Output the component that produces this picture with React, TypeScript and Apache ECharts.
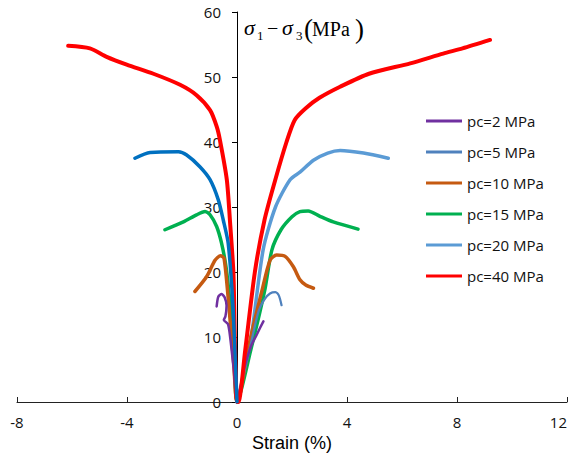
import React, { useEffect, useRef } from "react";
import * as echarts from "echarts";

// Strain (%) vs deviatoric stress (MPa); negative strain = lateral, positive = axial
const pc2 = [
  [-0.74, 14.7], [-0.68, 16.2], [-0.56, 16.6], [-0.45, 16.1], [-0.38, 14.8], [-0.42, 13.2],
  [-0.48, 12.6], [-0.33, 12.0], [-0.25, 10.0], [-0.12, 5.0], [0, 0],
  [0.25, 5.0], [0.5, 8.5], [0.7, 10.2], [0.85, 11.5], [0.96, 12.4],
];
const pc5 = [
  [0, 0], [0.4, 7.0], [0.78, 13.9], [1.0, 15.8], [1.2, 16.7], [1.4, 16.9], [1.52, 16.4], [1.62, 14.9],
];
const pc10 = [
  [-1.53, 17.0], [-1.1, 19.3], [-0.8, 21.8], [-0.6, 22.5], [-0.47, 22.1], [-0.3, 15.0], [-0.12, 6.0], [0, 0],
  [0.5, 10.0], [0.9, 17.0], [1.2, 21.8], [1.44, 22.6], [1.75, 22.4], [2.05, 20.8], [2.29, 18.8], [2.5, 18.0], [2.78, 17.5],
];
const pc15 = [
  [-2.62, 26.5], [-1.95, 27.7], [-1.47, 28.8], [-1.16, 29.3], [-0.98, 28.8], [-0.74, 27.0], [-0.56, 24.4],
  [-0.4, 20.8], [-0.25, 15.0], [-0.1, 7.0], [0, 0],
  [0.5, 8.0], [1.0, 17.0], [1.27, 23.4], [1.6, 26.5], [2.0, 28.5], [2.29, 29.3], [2.59, 29.4], [3.0, 28.6], [3.5, 27.7], [4.4, 26.6],
];
const pc20Lateral = [
  [-3.71, 37.5], [-3.16, 38.4], [-2.13, 38.5], [-1.83, 38.0], [-1.35, 36.2], [-0.98, 34.2], [-0.68, 31.1],
  [-0.5, 28.0], [-0.32, 24.4], [-0.15, 15.0], [-0.05, 5.0], [0, 0],
];
const pc20Axial = [
  [0, 0], [0.45, 8.0], [0.95, 23.4], [1.4, 30.0], [1.93, 34.2], [2.3, 35.4], [2.78, 37.2], [3.3, 38.3],
  [3.75, 38.7], [4.6, 38.3], [5.5, 37.5],
];
const pc40 = [
  [-6.14, 54.8], [-5.35, 54.4], [-4.74, 53.1], [-4.01, 51.9], [-3.04, 50.5], [-2.07, 48.8], [-1.47, 47.2],
  [-0.98, 44.9], [-0.74, 42.4], [-0.62, 40.3], [-0.37, 34.2], [-0.25, 27.5], [-0.13, 19.8], [-0.07, 8.0], [0, 0],
  [0.05, 0], [0.3, 8.0], [0.65, 20.0], [1.0, 28.0], [1.38, 34.0], [1.8, 40.0], [2.1, 43.4], [2.5, 45.2],
  [3.0, 46.8], [3.75, 48.5], [4.8, 50.5], [6.3, 52.1], [7.5, 53.6], [8.2, 54.4], [9.2, 55.7],
];

const legendNames = ["pc=2 MPa", "pc=5 MPa", "pc=10 MPa", "pc=15 MPa", "pc=20 MPa", "pc=40 MPa"];
const xTicks = { min: -8, max: 12, interval: 4 };
const yTicks = { min: 0, max: 60, interval: 10 };

const FONT = "Open Sans";
const SERIF = "Liberation Serif";
const GRID_LEFT = 17;
const GRID_RIGHT = 7;
const WIDTH = 574;

export default function App() {
  const ref = useRef<HTMLDivElement>(null);
  useEffect(() => {
    if (!ref.current) return;
    const chart = echarts.init(ref.current, null, { renderer: "svg" });
    // y axis sits on strain = 0: shift it from the grid's left edge by the scale's own position of 0
    const plotW = WIDTH - GRID_LEFT - GRID_RIGHT;
    const zeroOffset = ((0 - xTicks.min) / (xTicks.max - xTicks.min)) * plotW;
    const line = (name: string, data: number[][], color: string, width: number, z = 2) => ({
      name,
      type: "line",
      data,
      showSymbol: false,
      symbol: "none",
      smooth: 0.25,
      z,
      lineStyle: { color, width, cap: "round", join: "round" },
      itemStyle: { color },
    });
    const t = (text: string, x: number, y: number, size: number, italic = false) => ({
      type: "text",
      x,
      y,
      style: {
        text,
        fontFamily: SERIF,
        fontSize: size,
        fontStyle: italic ? "italic" : "normal",
        fill: "#000",
        align: "left",
        verticalAlign: "middle",
      },
    });
    chart.setOption({
      animation: false,
      backgroundColor: "#fff",
      grid: { left: GRID_LEFT, right: GRID_RIGHT, top: 12, bottom: 56, containLabel: false, outerBoundsMode: "none" },
      xAxis: {
        type: "value",
        ...xTicks,
        name: "Strain (%)",
        nameLocation: "middle",
        nameGap: 29,
        nameTextStyle: { fontFamily: "Liberation Sans", fontSize: 18, color: "#000" },
        axisLine: { onZero: false, lineStyle: { color: "#222", width: 1 } },
        axisTick: { show: true, inside: true, length: 5, lineStyle: { color: "#222" } },
        axisLabel: { margin: 12, fontFamily: FONT, fontSize: 15, color: "#111", alignMaxLabel: "right" },
        splitLine: { show: false },
      },
      yAxis: {
        type: "value",
        ...yTicks,
        position: "left",
        offset: -zeroOffset,
        axisLine: { show: true, onZero: false, lineStyle: { color: "#000", width: 1 } },
        axisTick: { show: true, length: 5, lineStyle: { color: "#000" } },
        axisLabel: { margin: 16, fontFamily: FONT, fontSize: 15, color: "#111" },
        splitLine: { show: false },
      },
      legend: {
        orient: "vertical",
        left: 421,
        top: 108,
        itemWidth: 36,
        itemHeight: 3,
        itemGap: 15,
        icon: "rect",
        data: legendNames,
        textStyle: { fontFamily: FONT, fontSize: 15, color: "#111", lineHeight: 16 },
      },
      graphic: [
        t("σ", 244, 27, 22, true),
        t("1", 257, 35, 13),
        t("−", 267, 28, 20),
        t("σ", 282, 27, 22, true),
        t("3", 296, 35, 13),
        t("(", 304, 29, 27),
        t("MPa", 312, 29, 20),
        t(")", 355, 29, 27),
      ],
      series: [
        line("pc=40 MPa", pc40, "#FF0000", 4, 3),
        line("pc=20 MPa", pc20Axial, "#5B9BD5", 3.5),
        line("pc=20 lateral", pc20Lateral, "#0070C0", 3.5, 4),
        line("pc=15 MPa", pc15, "#00B050", 3.5),
        line("pc=10 MPa", pc10, "#C55A11", 3.5),
        line("pc=5 MPa", pc5, "#4F81BD", 2.25),
        line("pc=2 MPa", pc2, "#7030A0", 2.5),
      ],
    });
    return () => chart.dispose();
  }, []);
  return (
    <div
      ref={ref}
      style={{ position: "absolute", left: 0, top: 0, width: WIDTH, height: 458 }}
    />
  );
}
